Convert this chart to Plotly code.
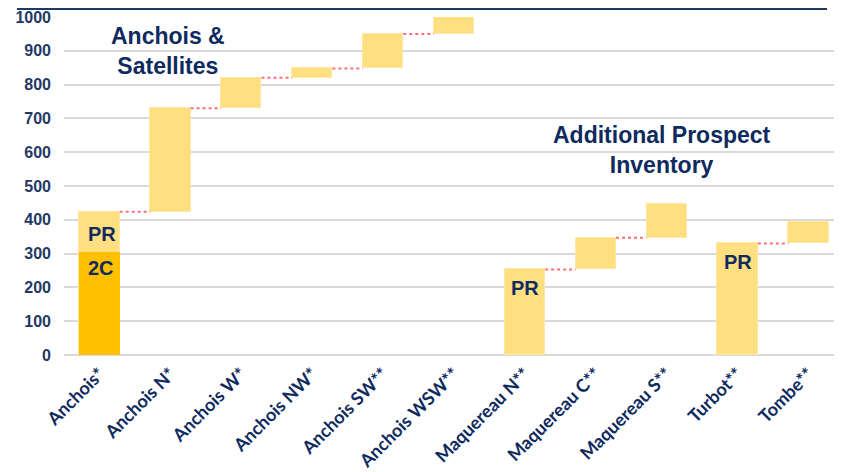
import plotly.graph_objects as go

categories = ["Anchois*", "Anchois N*", "Anchois W*", "Anchois NW*", "Anchois SW**",
              "Anchois WSW**", "Maquereau N**", "Maquereau C**", "Maquereau S**",
              "Turbot**", "Tombe**"]
# waterfall: each bar runs from base to top
bar_base = [0, 424, 730, 820, 848, 950, 0, 253, 347, 0, 330]
bar_top = [424, 730, 820, 848, 950, 1000, 253, 347, 447, 330, 393]
# 2C portion of Anchois*
c2_value = [305] + [None] * 10
# connectors drawn after bar i (True = dotted line to next bar)
connect_next = [True, True, True, True, True, False, True, True, False, True, False]
y_ticks = [0, 100, 200, 300, 400, 500, 600, 700, 800, 900, 1000]

NAVY = "#0E2A5E"
LIGHT = "#FFDF80"
GOLD = "#FFC000"
BW = 0.57

xs = list(range(len(categories)))
fig = go.Figure()
fig.add_trace(go.Bar(
    x=xs, y=[t - b for t, b in zip(bar_top, bar_base)], base=bar_base,
    width=BW, marker=dict(color=LIGHT, line=dict(color="#FFE8A6", width=1)),
    hoverinfo="skip", showlegend=False))
fig.add_trace(go.Bar(
    x=xs, y=c2_value, width=BW, marker=dict(color=GOLD, line=dict(width=0)),
    hoverinfo="skip", showlegend=False))

cx, cy = [], []
for i, c in enumerate(connect_next):
    if c and i + 1 < len(categories):
        cx += [i + BW / 2, i + 1 - BW / 2, None]
        cy += [bar_top[i], bar_top[i], None]
fig.add_trace(go.Scatter(x=cx, y=cy, mode="lines",
                         line=dict(color="#FF6F6F", width=2, dash="dot"),
                         hoverinfo="skip", showlegend=False))

ann_font = dict(family="Arial, Liberation Sans", size=23, color=NAVY, weight="bold")
fig.add_annotation(x=0.96, y=898, text="Anchois &<br>Satellites", showarrow=False,
                   font=ann_font, yanchor="middle")
fig.add_annotation(x=7.94, y=607, text="Additional Prospect<br>Inventory", showarrow=False,
                   font=ann_font, yanchor="middle")
pr_font = dict(family="Arial, Liberation Sans", size=20, color=NAVY, weight="bold")
for (x, y, t) in [(0.03, 357, "PR"), (0.02, 257, "2C"), (6.0, 197, "PR"), (9.0, 274, "PR")]:
    fig.add_annotation(x=x, y=y, text=t, showarrow=False, font=pr_font, yanchor="middle")

# navy frame along the top of the page
fig.add_shape(type="rect", xref="paper", yref="paper", x0=-0.0591, x1=0.9769,
              y0=1.0237, y1=1.2, line=dict(color="#1F3864", width=2),
              fillcolor="rgba(0,0,0,0)")

fig.update_layout(
    width=842, height=472, barmode="overlay", bargap=0,
    margin=dict(l=56, r=6, t=9, b=125, autoexpand=False),
    plot_bgcolor="white", paper_bgcolor="white",
    xaxis=dict(range=[-0.5, 10.5], tickvals=xs, ticktext=categories, tickangle=-45,
               showgrid=False, zeroline=False, showline=False, ticks="", automargin=False,
               ticklabelstandoff=4,
               tickfont=dict(family="Lato", size=18, color=NAVY, weight="bold")),
    yaxis=dict(range=[0, 1000], tickvals=y_ticks, showgrid=True, gridcolor="#D9D9D9",
               gridwidth=1.5, zeroline=True, zerolinecolor="#D9D9D9", zerolinewidth=1.5,
               showline=False, ticks="", ticklabelstandoff=12, automargin=False,
               tickfont=dict(family="Arial, Liberation Sans", size=16, color="#1F3864",
                             weight="bold")),
)
fig.write_html("out.html")
